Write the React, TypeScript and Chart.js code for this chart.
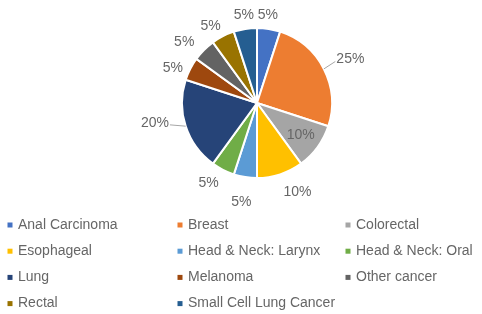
import React, { useEffect, useRef } from "react";
import { Chart, registerables } from "chart.js";

Chart.register(...registerables);

const categories = [
  "Anal Carcinoma",
  "Breast",
  "Colorectal",
  "Esophageal",
  "Head & Neck: Larynx",
  "Head & Neck: Oral",
  "Lung",
  "Melanoma",
  "Other cancer",
  "Rectal",
  "Small Cell Lung Cancer",
];
const shares = [5, 25, 10, 10, 5, 5, 20, 5, 5, 5, 5];
const percentLabels = ["5%", "25%", "10%", "10%", "5%", "5%", "20%", "5%", "5%", "5%", "5%"];
const colors = [
  "#4472C4",
  "#ED7D31",
  "#A5A5A5",
  "#FFC000",
  "#5B9BD5",
  "#70AD47",
  "#264478",
  "#9E480E",
  "#636363",
  "#997300",
  "#255E91",
];
// label placement relative to each arc (radial distance, angular shift in degrees)
const labelRadius = [89, 103, 54, 97.5, 100, 94, 104, 91, 95, 90, 89];
const labelShift = [-2, 2, 0, -6.5, 0, 4, 7, -4.5, -5, -4, 0.5];
const leaderLines = [false, true, false, false, false, false, true, false, false, false, false];

const FONT = "14px 'Liberation Sans', Arial, sans-serif";
const TEXT = "#666666";

const overlayPlugin = {
  id: "overlay",
  afterDatasetsDraw(chart: any) {
    const ctx = chart.ctx;
    const meta = chart.getDatasetMeta(0);
    ctx.save();
    ctx.font = FONT;
    ctx.textAlign = "center";
    ctx.textBaseline = "middle";
    meta.data.forEach((arc: any, i: number) => {
      const p = arc.getProps(["x", "y", "startAngle", "endAngle", "outerRadius"], true);
      const mid = (p.startAngle + p.endAngle) / 2;
      const a = mid + (labelShift[i] * Math.PI) / 180;
      const r = labelRadius[i];
      const lx = p.x + r * Math.cos(a);
      const ly = p.y + r * Math.sin(a);
      if (leaderLines[i]) {
        const ex = p.x + p.outerRadius * Math.cos(mid);
        const ey = p.y + p.outerRadius * Math.sin(mid);
        const w = ctx.measureText(percentLabels[i]).width;
        const sx = lx + (Math.cos(a) > 0 ? -w / 2 - 1 : w / 2 + 1);
        ctx.strokeStyle = "#A6A6A6";
        ctx.lineWidth = 1;
        ctx.beginPath();
        ctx.moveTo(ex, ey);
        ctx.lineTo(sx, ly + 2);
        ctx.stroke();
      }
      ctx.fillStyle = TEXT;
      ctx.fillText(percentLabels[i], lx, ly);
    });

    // legend
    const colX = [10, 180, 348];
    const rowY = [225, 251.2, 277.4, 303.6];
    ctx.textAlign = "left";
    categories.forEach((name, i) => {
      const cx = colX[i % 3];
      const cy = rowY[Math.floor(i / 3)];
      ctx.fillStyle = colors[i];
      ctx.fillRect(cx - 2.5, cy - 2.5, 5, 5);
      ctx.fillStyle = TEXT;
      ctx.fillText(name, cx + 8, cy);
    });
    ctx.restore();
  },
};

export default function App() {
  const ref = useRef<HTMLCanvasElement>(null);
  useEffect(() => {
    if (!ref.current) return;
    const chart = new Chart(ref.current, {
      type: "pie",
      data: {
        labels: categories,
        datasets: [
          {
            data: shares,
            backgroundColor: colors,
            borderColor: "#FFFFFF",
            borderWidth: 2,
          },
        ],
      },
      options: {
        responsive: false,
        animation: false,
        radius: 75,
        layout: { padding: { left: 182, right: 150, top: 28, bottom: 136 } },
        plugins: {
          legend: { display: false },
          tooltip: { enabled: false },
        },
      } as any,
      plugins: [overlayPlugin],
    });
    return () => chart.destroy();
  }, []);
  return (
    <div style={{ position: "fixed", left: 0, top: 0, width: 482, height: 314, background: "#fff" }}>
      <canvas ref={ref} width={482} height={314} />
    </div>
  );
}
